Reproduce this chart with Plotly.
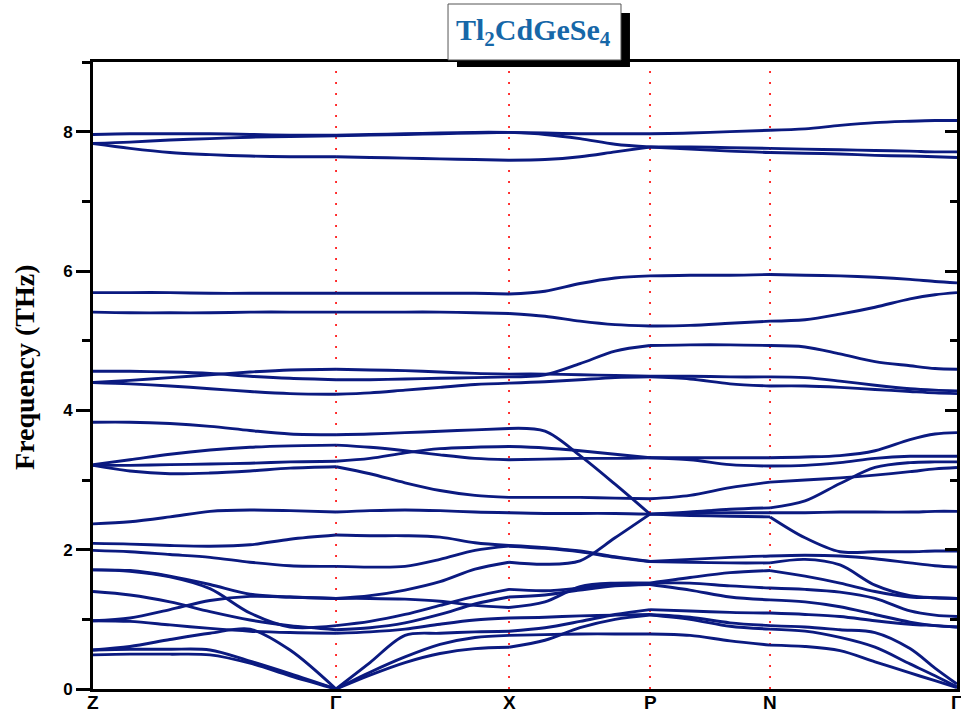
import plotly.graph_objects as go

# k-path distance (normalised) and high-symmetry points
kdist = [0.0, 0.0428, 0.0891, 0.1354, 0.1817, 0.2280, 0.2813,
         0.3206, 0.3611, 0.4016, 0.4421, 0.4815,
         0.5231, 0.5637, 0.6042, 0.6447,
         0.6910, 0.7373, 0.7836,
         0.8241, 0.8646, 0.9051, 0.9456, 0.9745, 1.0]
segments = [(0, 6), (6, 11), (11, 15), (15, 18), (18, 24)]
sym_k = [0.0, 0.2813, 0.4815, 0.6447, 0.7836, 1.0]
sym_labels = ["Z", "Γ", "X", "P", "N", "Γ"]

# phonon branches (THz)
band_T1 = [7.96, 7.97, 7.97, 7.97, 7.96, 7.95, 7.95, 7.96, 7.97, 7.98, 7.99, 7.99, 7.98, 7.97, 7.97, 7.97, 7.98, 8.00, 8.02, 8.04, 8.09, 8.13, 8.15, 8.16, 8.16]
band_T2 = [7.83, 7.85, 7.88, 7.90, 7.92, 7.93, 7.94, 7.95, 7.96, 7.97, 7.98, 7.99, 7.96, 7.90, 7.82, 7.78, 7.78, 7.77, 7.76, 7.75, 7.74, 7.73, 7.72, 7.71, 7.71]
band_T3 = [7.83, 7.76, 7.70, 7.67, 7.65, 7.64, 7.64, 7.63, 7.62, 7.61, 7.60, 7.59, 7.60, 7.64, 7.71, 7.78, 7.75, 7.72, 7.70, 7.69, 7.68, 7.66, 7.65, 7.64, 7.63]
band_F1 = [5.69, 5.69, 5.69, 5.68, 5.68, 5.68, 5.68, 5.68, 5.68, 5.68, 5.68, 5.67, 5.71, 5.82, 5.90, 5.93, 5.94, 5.94, 5.95, 5.94, 5.93, 5.91, 5.88, 5.85, 5.83]
band_F2 = [5.41, 5.40, 5.40, 5.40, 5.41, 5.41, 5.41, 5.41, 5.41, 5.41, 5.40, 5.39, 5.35, 5.28, 5.23, 5.21, 5.22, 5.25, 5.28, 5.30, 5.38, 5.48, 5.60, 5.66, 5.69]
band_H1 = [4.40, 4.43, 4.47, 4.51, 4.55, 4.58, 4.59, 4.58, 4.57, 4.55, 4.53, 4.52, 4.52, 4.51, 4.50, 4.49, 4.49, 4.48, 4.48, 4.47, 4.42, 4.36, 4.31, 4.29, 4.28]
band_H2 = [4.56, 4.56, 4.55, 4.53, 4.49, 4.46, 4.44, 4.44, 4.45, 4.46, 4.47, 4.48, 4.51, 4.67, 4.85, 4.93, 4.94, 4.94, 4.93, 4.91, 4.81, 4.70, 4.64, 4.60, 4.59]
band_H3 = [4.40, 4.38, 4.35, 4.31, 4.27, 4.24, 4.23, 4.25, 4.29, 4.33, 4.37, 4.39, 4.41, 4.44, 4.47, 4.48, 4.45, 4.38, 4.35, 4.35, 4.33, 4.30, 4.27, 4.25, 4.24]
band_S = [3.83, 3.83, 3.81, 3.77, 3.71, 3.66, 3.65, 3.66, 3.68, 3.70, 3.72, 3.74, 3.70, 3.35, 2.94, 2.51, 2.54, 2.58, 2.60, 2.70, 2.95, 3.18, 3.25, 3.26, 3.26]
band_U1 = [3.22, 3.29, 3.37, 3.43, 3.47, 3.49, 3.50, 3.47, 3.42, 3.36, 3.31, 3.29, 3.30, 3.31, 3.31, 3.32, 3.32, 3.32, 3.32, 3.33, 3.35, 3.42, 3.58, 3.66, 3.68]
band_U2 = [3.21, 3.21, 3.22, 3.23, 3.24, 3.26, 3.27, 3.31, 3.39, 3.45, 3.47, 3.48, 3.46, 3.42, 3.37, 3.32, 3.29, 3.22, 3.20, 3.21, 3.25, 3.31, 3.34, 3.34, 3.34]
band_U3 = [3.21, 3.13, 3.09, 3.10, 3.13, 3.17, 3.19, 3.09, 2.96, 2.85, 2.78, 2.75, 2.75, 2.75, 2.74, 2.73, 2.78, 2.89, 2.97, 3.00, 3.03, 3.07, 3.12, 3.16, 3.18]
band_L1 = [2.37, 2.40, 2.47, 2.55, 2.57, 2.56, 2.54, 2.56, 2.57, 2.56, 2.54, 2.53, 2.52, 2.52, 2.52, 2.51, 2.52, 2.53, 2.53, 2.53, 2.54, 2.54, 2.54, 2.55, 2.55]
band_B1 = [2.09, 2.08, 2.06, 2.05, 2.07, 2.15, 2.21, 2.20, 2.20, 2.18, 2.10, 2.06, 2.03, 1.98, 1.90, 1.83, 1.86, 1.89, 1.91, 1.92, 1.91, 1.87, 1.81, 1.77, 1.75]
band_B2 = [1.99, 1.97, 1.93, 1.89, 1.82, 1.77, 1.76, 1.75, 1.76, 1.86, 1.99, 2.05, 2.02, 1.97, 1.89, 1.83, 1.82, 1.81, 1.81, 1.86, 1.78, 1.49, 1.34, 1.31, 1.30]
band_B3 = [1.71, 1.70, 1.62, 1.50, 1.36, 1.32, 1.30, 1.34, 1.42, 1.54, 1.72, 1.82, 1.79, 1.84, 2.17, 2.51, 2.49, 2.48, 2.47, 2.17, 1.97, 1.97, 1.97, 1.98, 1.98]
band_B4 = [1.71, 1.69, 1.61, 1.44, 1.09, 0.89, 0.91, 0.97, 1.07, 1.20, 1.33, 1.43, 1.41, 1.45, 1.51, 1.52, 1.60, 1.67, 1.70, 1.62, 1.52, 1.40, 1.32, 1.31, 1.30]
band_B5 = [1.40, 1.35, 1.25, 1.11, 0.99, 0.91, 0.85, 0.88, 0.95, 1.07, 1.22, 1.32, 1.35, 1.42, 1.48, 1.50, 1.42, 1.32, 1.28, 1.25, 1.18, 1.07, 0.96, 0.91, 0.89]
band_B6 = [0.98, 1.02, 1.14, 1.27, 1.33, 1.32, 1.30, 1.30, 1.29, 1.26, 1.20, 1.17, 1.25, 1.47, 1.52, 1.52, 1.52, 1.48, 1.45, 1.43, 1.39, 1.30, 1.12, 1.06, 1.04]
band_B7 = [0.98, 0.97, 0.92, 0.87, 0.83, 0.81, 0.80, 0.82, 0.86, 0.93, 0.99, 1.02, 1.03, 1.05, 1.06, 1.07, 1.03, 0.95, 0.91, 0.89, 0.85, 0.81, 0.58, 0.30, 0.07]
band_B8 = [0.56, 0.61, 0.71, 0.80, 0.86, 0.56, 0.00, 0.38, 0.77, 0.80, 0.82, 0.83, 0.88, 0.97, 1.07, 1.14, 1.12, 1.10, 1.09, 1.07, 1.04, 0.98, 0.93, 0.91, 0.89]
band_B9 = [0.56, 0.57, 0.57, 0.56, 0.40, 0.22, 0.00, 0.24, 0.46, 0.64, 0.74, 0.77, 0.78, 0.79, 0.79, 0.79, 0.77, 0.69, 0.63, 0.61, 0.55, 0.39, 0.23, 0.12, 0.02]
band_B10 = [0.49, 0.50, 0.50, 0.49, 0.37, 0.19, 0.00, 0.20, 0.38, 0.51, 0.58, 0.60, 0.70, 0.88, 1.00, 1.06, 1.00, 0.90, 0.86, 0.83, 0.74, 0.60, 0.36, 0.19, 0.03]

bands = [band_T1, band_T2, band_T3, band_F1, band_F2, band_H1, band_H2, band_H3,
         band_S, band_U1, band_U2, band_U3, band_L1, band_B1, band_B2, band_B3,
         band_B4, band_B5, band_B6, band_B7, band_B8, band_B9, band_B10]

LINE = "#0b1a80"
fig = go.Figure()
for b in bands:
    for (i0, i1) in segments:
        fig.add_trace(go.Scatter(
            x=kdist[i0:i1 + 1], y=b[i0:i1 + 1], mode="lines",
            line=dict(color=LINE, width=2.9, shape="spline", smoothing=0.9),
            hoverinfo="skip", showlegend=False))

# invisible trace to activate right-side axis
fig.add_trace(go.Scatter(x=[0], y=[0], yaxis="y2", mode="markers",
                         marker=dict(opacity=0), showlegend=False, hoverinfo="skip"))

shapes = []
for k in sym_k[1:-1]:
    shapes.append(dict(type="line", xref="x", yref="paper", x0=k, x1=k, y0=0, y1=1,
                       line=dict(color="red", width=1.6, dash="2px,9px"), layer="below"))
# title box with shadow
shapes.append(dict(type="rect", xref="paper", yref="paper", x0=0.4213, x1=0.6215,
                   y0=0.9920, y1=1.0781, fillcolor="black", line=dict(width=0), layer="above"))
shapes.append(dict(type="rect", xref="paper", yref="paper", x0=0.4109, x1=0.6111,
                   y0=1.0032, y1=1.0925, fillcolor="white",
                   line=dict(color="#555555", width=1), layer="above"))

annotations = [
    dict(text="<b>Frequency (THz)</b>", xref="paper", yref="paper", x=-0.0787, y=0.5136,
         xanchor="center", yanchor="middle", textangle=-90, showarrow=False,
         font=dict(family="Liberation Serif, Times New Roman", size=28, color="black")),
    dict(text="<b>Tl<sub>2</sub>CdGeSe<sub>4</sub></b>", xref="paper", yref="paper",
         x=0.5104, y=1.0478, xanchor="center", yanchor="middle", showarrow=False,
         font=dict(family="Liberation Serif, Times New Roman", size=30, color="#1667a8")),
]
# high-symmetry point labels along the k axis
for k, lab in zip(sym_k, sym_labels):
    annotations.append(dict(text="<b>%s</b>" % lab, xref="x", yref="paper", x=k, y=-0.0215,
                            xanchor="center", yanchor="middle", showarrow=False,
                            font=dict(family="Liberation Sans, Arial", size=19, color="black")))

fig.update_layout(
    width=961, height=716,
    margin=dict(l=93, r=4, t=62, b=27),
    plot_bgcolor="white", paper_bgcolor="white",
    shapes=shapes,
    annotations=annotations,
    xaxis=dict(range=[0, 1], tickvals=sym_k, showticklabels=False, ticks="",
               showline=True, linecolor="black", linewidth=2.6, mirror=True,
               showgrid=False, zeroline=False, automargin=False),
    yaxis=dict(range=[0, 9], dtick=2, tick0=0, ticks="outside", ticklen=14, tickwidth=2.5,
               tickcolor="black", showline=True, linecolor="black", linewidth=2.6, mirror=True,
               showgrid=False, zeroline=False, automargin=False,
               minor=dict(dtick=1, ticks="outside", ticklen=8, tickwidth=2.5, tickcolor="black"),
               tickfont=dict(family="Liberation Sans, Arial", size=17, color="black", weight="bold")),
    yaxis2=dict(range=[0, 9], dtick=2, tick0=0, overlaying="y", side="right", ticks="inside",
                ticklen=12, tickwidth=2.5, tickcolor="black", showticklabels=False,
                showgrid=False, zeroline=False, showline=False, automargin=False,
                minor=dict(dtick=1, ticks="inside", ticklen=7, tickwidth=2.5, tickcolor="black")),
)

fig.write_html("out.html")
